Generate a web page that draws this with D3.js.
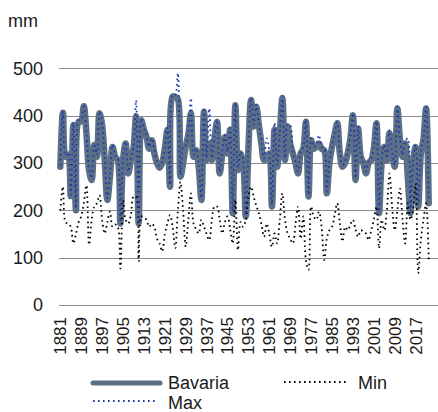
<!DOCTYPE html>
<html><head><meta charset="utf-8">
<script src="https://cdn.jsdelivr.net/npm/d3@7"></script>
<style>body{margin:0;background:#fff}svg{display:block}text{font-family:"Liberation Sans",Arial,sans-serif;fill:#1a1a1a}</style>
</head><body>
<svg id="c" width="438" height="412"></svg>
<script>
const years = d3.range(1881, 2023);
const yTicks = [0, 100, 200, 300, 400, 500];
const xLabelYears = d3.range(1881, 2018, 8);
const unitLabel = "mm";
const seriesNames = ["Bavaria", "Min", "Max"];

const bavaria = [
292,406,313,318,230,380,200,387,388,420,
363,285,264,338,313,405,380,306,222,271,
334,313,306,172,306,341,278,306,330,398,
172,390,370,355,330,348,320,300,290,300,
330,370,250,440,440,435,271,300,334,360,
405,313,327,290,222,408,306,340,306,350,
387,278,320,355,320,370,194,422,285,320,
300,187,330,433,377,419,380,340,306,310,
320,208,370,292,360,437,306,377,340,320,
300,278,320,330,387,229,348,330,335,341,
330,327,236,300,334,360,384,320,292,300,
320,350,401,264,373,313,300,278,300,306,
330,384,194,300,334,306,363,320,292,415,
350,313,341,271,194,300,334,208,320,350,
415,215];

const minVals = [
200,250,175,172,165,130,150,175,187,215,
253,127,180,208,215,232,180,151,175,197,
165,170,165,77,222,180,172,190,229,229,
92,187,185,180,165,172,165,140,130,113,
150,172,190,165,120,200,260,200,123,180,
236,172,160,151,180,165,150,137,180,208,
208,180,151,175,187,160,130,222,116,175,
165,180,230,250,229,210,194,170,144,172,
150,123,151,130,180,236,180,151,140,130,
170,208,140,187,95,74,208,187,180,197,
165,95,140,158,165,190,215,172,134,165,
158,170,180,160,144,158,155,151,137,158,
180,208,120,180,158,200,278,208,158,200,
246,180,130,215,180,200,257,67,137,180,
215,95];

const maxVals = [
295,410,316,322,233,384,204,390,392,424,
366,289,268,341,317,409,383,310,226,275,
338,316,310,176,310,345,282,310,334,432,
176,394,374,358,334,352,330,304,294,304,
334,374,254,444,444,490,275,335,338,364,
437,317,331,294,226,412,310,415,310,354,
391,282,324,358,324,374,198,426,289,324,
304,191,334,437,381,423,384,344,310,352,
324,212,385,296,364,441,310,381,380,324,
304,282,324,334,391,233,352,334,339,359,
334,331,240,304,338,364,386,324,296,304,
324,357,405,268,377,317,304,282,304,310,
334,388,198,304,338,310,370,324,296,419,
354,317,345,352,198,304,338,212,324,354,
419,219];

const svg = d3.select("#c");
const x = d3.scaleBand().domain(years).range([59, 430]);
const y = d3.scaleLinear().domain([0, 500]).range([305, 68.3]);
const cx = d => x(d) + x.bandwidth() / 2;

svg.append("g").selectAll("line").data(yTicks).join("line")
  .attr("x1", 59).attr("x2", 438)
  .attr("y1", d => Math.round(y(d)) + 0.5).attr("y2", d => Math.round(y(d)) + 0.5)
  .attr("stroke", "#8c8c8c").attr("stroke-width", 1);

svg.append("g").selectAll("text").data(yTicks).join("text")
  .attr("x", 43).attr("y", d => y(d)).attr("dy", "0.35em")
  .attr("text-anchor", "end").attr("font-size", 18).text(d => d);

svg.append("text").attr("x", 8).attr("y", 27).attr("font-size", 18).text(unitLabel);

svg.append("g").selectAll("text").data(xLabelYears).join("text")
  .attr("transform", d => `translate(${cx(d)},317) rotate(-90)`)
  .attr("text-anchor", "end").attr("dy", "0.35em")
  .attr("font-size", 17).text(d => d);

const line = vals => d3.line()
  .x((d, i) => cx(years[i]))
  .y(d => y(d))
  .curve(d3.curveCatmullRom.alpha(0.5))(vals);

const dots = "1.6 3.4";
svg.append("path").attr("d", line(bavaria)).attr("fill", "none")
  .attr("stroke", "#5b7086").attr("stroke-width", 6.5)
  .attr("stroke-linejoin", "round").attr("stroke-linecap", "round");
svg.append("path").attr("d", line(minVals)).attr("fill", "none")
  .attr("stroke", "#000").attr("stroke-width", 1.8)
  .attr("stroke-dasharray", dots);
svg.append("path").attr("d", line(maxVals)).attr("fill", "none")
  .attr("stroke", "#1f35a8").attr("stroke-width", 1.8)
  .attr("stroke-dasharray", dots);

const lg = svg.append("g");
lg.append("line").attr("x1", 93).attr("x2", 160).attr("y1", 383).attr("y2", 383)
  .attr("stroke", "#5b7086").attr("stroke-width", 5).attr("stroke-linecap", "round");
lg.append("text").attr("x", 168).attr("y", 383).attr("dy", "0.35em").attr("font-size", 18).text(seriesNames[0]);
lg.append("line").attr("x1", 284).attr("x2", 346).attr("y1", 382).attr("y2", 382)
  .attr("stroke", "#000").attr("stroke-width", 1.8).attr("stroke-dasharray", dots);
lg.append("text").attr("x", 358).attr("y", 383).attr("dy", "0.35em").attr("font-size", 18).text(seriesNames[1]);
lg.append("line").attr("x1", 93).attr("x2", 156).attr("y1", 401).attr("y2", 401)
  .attr("stroke", "#1f35a8").attr("stroke-width", 1.8).attr("stroke-dasharray", dots);
lg.append("text").attr("x", 168).attr("y", 403).attr("dy", "0.35em").attr("font-size", 18).text(seriesNames[2]);
</script>
</body></html>
